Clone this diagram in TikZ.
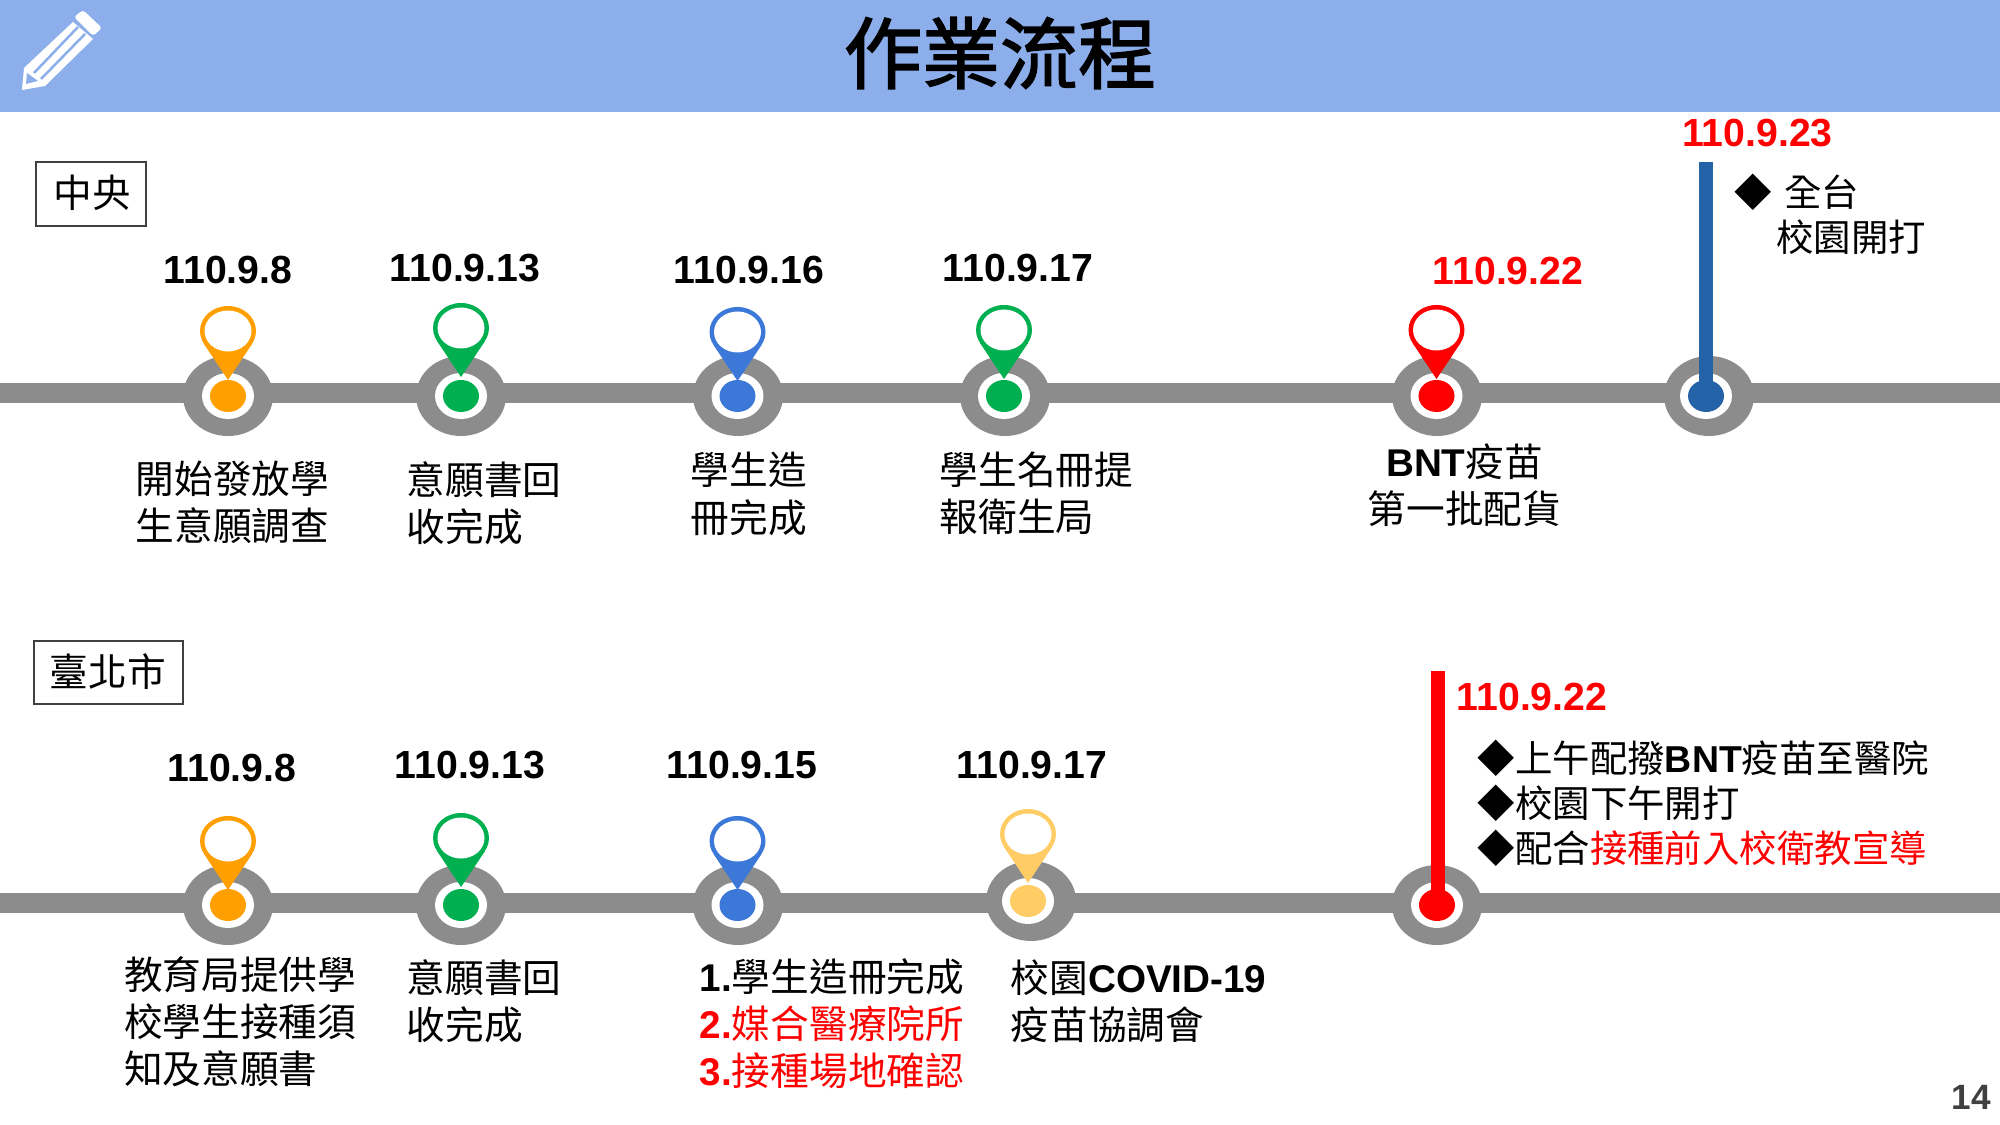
\documentclass[tikz,border=0pt]{standalone}
\usepackage{fontspec}
\setmainfont{Liberation Sans}
\newfontfamily\cjk{Noto Sans CJK TC}
\newfontfamily\cjktitle[FakeBold=2]{Noto Sans CJK TC}
\definecolor{headblue}{HTML}{8CAEEB}
\definecolor{linegray}{HTML}{8C8C8C}
\definecolor{boxgray}{HTML}{404040}
\definecolor{pinorange}{HTML}{FF9F00}
\definecolor{pingreen}{HTML}{00B050}
\definecolor{pinblue}{HTML}{3C78D8}
\definecolor{pinyellow}{HTML}{FFCC66}
\definecolor{barblue}{HTML}{2563A8}
\definecolor{pinred}{HTML}{FF0000}
\tikzset{
	cjktext/.style={inner sep=0pt, align=left, anchor=west, font=\cjk\fontsize{11}{13.4}\selectfont},
	listtext/.style={inner sep=0pt, align=left, anchor=west, font=\cjk\fontsize{10.65}{12.8}\selectfont},
	datetext/.style={inner sep=0pt, font=\bfseries\fontsize{11.15}{13.4}\selectfont},
	areabox/.style={draw=boxgray, line width=0.25mm, fill=white},
	trackline/.style={linegray, line width=2mm},
	barline/.style={line width=1.4mm}
}
\newcommand{\latn}[1]{{\normalfont\bfseries #1}}
\begin{document}
\begin{tikzpicture}[x=0.01cm, y=-0.01cm]
	\useasboundingbox (0,0) rectangle (2000,1125);
	\fill[headblue] (0,0) rectangle (2000,112);
	\fill[white, rounded corners=0.3mm] (74,17) -- (83,10) -- (102,28) -- (93,36) -- cycle;
	\fill[white] (24,68) -- (73,22) -- (93,39) -- (45,86) -- (22,90) -- cycle;
	\draw[headblue, line width=0.025cm] (34,73) -- (78,27);
	\draw[headblue, line width=0.025cm] (41,79) -- (85,34);
	\fill[headblue] (27,73) -- (26,84) -- (38,81) -- cycle;
	\node[inner sep=0pt, font=\cjktitle\fontsize{22.2}{26}\selectfont] (title) at (1000,53) {作業流程};

	\draw[areabox] (36,162) rectangle (146,226);
	\node[cjktext, anchor=center] (central) at (92,193) {中央};
	\draw[areabox] (34,641) rectangle (183,704);
	\node[cjktext, anchor=center] (taipei) at (108,672) {臺北市};

	\coordinate (topleft) at (0,393);
	\coordinate (topright) at (2000,393);
	\coordinate (lowleft) at (0,903);
	\coordinate (lowright) at (2000,903);
	\draw[trackline] (topleft) -- (topright);
	\draw[trackline] (lowleft) -- (lowright);

	\foreach \x/\xx/\yy/\yp/\c in {228/228/396/306/pinorange, 461/461/396/303/pingreen, 738/737.5/396/307/pinblue, 1005/1004/396/305/pingreen, 1437/1436.5/396/305/pinred,
		228/228/905/816/pinorange, 461/461/905/813/pingreen, 738/737.5/905/816/pinblue, 1031/1028/901/809/pinyellow}
	{
		\fill[linegray] (\x,\yy) ellipse [x radius=45, y radius=40];
		\fill[white] (\xx,\yy) ellipse [x radius=26, y radius=23];
		\fill[\c] (\xx,\yy) ellipse [x radius=18, y radius=16];
		\fill[\c] (\xx,\yp+25) ellipse [x radius=28, y radius=25];
		\fill[\c] (\xx-24,\yp+38) -- (\xx,\yp+74) -- (\xx+24,\yp+38) -- cycle;
		\fill[white] (\xx,\yp+25) ellipse [x radius=23.5, y radius=20.5];
	}

	\foreach \x/\xx/\yy/\c in {1709/1706/396/barblue, 1437/1437/905/pinred}
	{
		\fill[linegray] (\x,\yy) ellipse [x radius=45, y radius=40];
		\fill[white] (\xx,\yy) ellipse [x radius=26, y radius=23];
		\fill[\c] (\xx,\yy) ellipse [x radius=18, y radius=16];
	}
	\coordinate (bluetop) at (1706,162);
	\coordinate (bluedot) at (1706,396);
	\coordinate (redtop) at (1437.5,671);
	\coordinate (reddot) at (1437.5,905);
	\draw[barline, barblue] (bluetop) -- (bluedot);
	\draw[barline, pinred] (redtop) -- (reddot);

	\node[datetext] (datea) at (228,270) {110.9.8};
	\node[datetext] (dateb) at (465,268) {110.9.13};
	\node[datetext] (datec) at (749,270) {110.9.16};
	\node[datetext] (dated) at (1018,268) {110.9.17};
	\node[datetext, text=pinred] (datee) at (1508,271) {110.9.22};
	\node[datetext, text=pinred] (datef) at (1757.5,133) {110.9.23};
	\node[datetext] (dateg) at (232,768) {110.9.8};
	\node[datetext] (dateh) at (470,765) {110.9.13};
	\node[datetext] (datei) at (742,765) {110.9.15};
	\node[datetext] (datej) at (1032,765) {110.9.17};
	\node[datetext, text=pinred] (datek) at (1532,697) {110.9.22};

	\node[cjktext] (labela) at (135,502) {開始發放學\\生意願調查};
	\node[cjktext] (labelb) at (406,503) {意願書回\\收完成};
	\node[cjktext] (labelc) at (690,494) {學生造\\冊完成};
	\node[cjktext] (labeld) at (939,493) {學生名冊提\\報衛生局};
	\node[cjktext, align=center, anchor=center] (labele) at (1464.5,485) {\latn{BNT}疫苗\\第一批配貨};
	\node[listtext] (labelf) at (1734,214) {◆\hspace{0.33em}全台\\\hspace{1.11em}校園開打};

	\node[cjktext] (labelg) at (123.5,1022) {教育局提供學\\校學生接種須\\知及意願書};
	\node[cjktext] (labelh) at (406,1001) {意願書回\\收完成};
	\node[cjktext] (labeli) at (699,1024) {\latn{1.}學生造冊完成\\\textcolor{pinred}{\latn{2.}媒合醫療院所}\\\textcolor{pinred}{\latn{3.}接種場地確認}};
	\node[cjktext] (labelj) at (1010,1001) {校園\latn{COVID-19}\\疫苗協調會};
	\node[listtext] (labelk) at (1477,803.5) {◆上午配撥\latn{BNT}疫苗至醫院\\◆校園下午開打\\◆配合\textcolor{pinred}{接種前入校衛教宣導}};

	\node[datetext, text=boxgray, font=\bfseries\fontsize{10}{12}\selectfont] (pagenum) at (1971,1097) {14};
\end{tikzpicture}
\end{document}
